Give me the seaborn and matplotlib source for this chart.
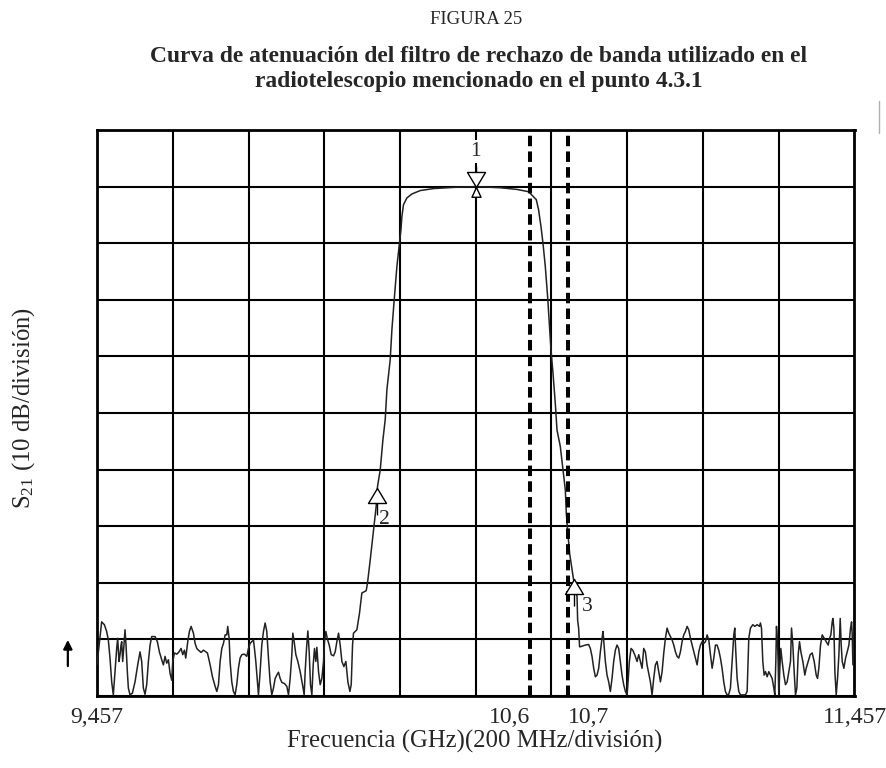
import numpy as np
import pandas as pd
import matplotlib
matplotlib.use("Agg")
import matplotlib.pyplot as plt
from matplotlib.path import Path
from matplotlib.lines import Line2D
import seaborn as sns

# Measured S21 trace of the band-reject filter (frequency in GHz, level in dB,
# 0 dB = reference line, 10 dB per division)
freq_ghz = [
    # noise floor below the band
    9.457, 9.4693, 9.4764, 9.4825, 9.4869, 9.4913, 9.4958, 9.5001, 9.5046, 9.5090,
    9.5116, 9.5151, 9.5178, 9.5204, 9.5222, 9.5248, 9.5275, 9.5310, 9.5336, 9.5371,
    9.5398, 9.5442, 9.5504, 9.5574, 9.5645, 9.5706, 9.5750, 9.5794, 9.5838, 9.5882,
    9.5927, 9.5971, 9.6015, 9.6103, 9.6164, 9.6217, 9.6279, 9.6323, 9.6367, 9.6411,
    9.6455, 9.6499, 9.6543, 9.6570, 9.6614, 9.6676, 9.6737, 9.6790, 9.6834, 9.6878,
    9.6913, 9.6966, 9.7010, 9.7054, 9.7116, 9.7160, 9.7204, 9.7248, 9.7319, 9.7380,
    9.7442, 9.7486, 9.7557, 9.7618, 9.7689, 9.7733, 9.7777, 9.7821, 9.7865, 9.7909,
    9.7953, 9.7996, 9.8022, 9.8058, 9.8084, 9.8128, 9.8172, 9.8216, 9.8260, 9.8304,
    9.8348, 9.8393, 9.8463, 9.8525, 9.8569, 9.8613, 9.8657, 9.8701, 9.8727, 9.8763,
    9.8798, 9.8833, 9.8877, 9.8921, 9.8965, 9.9009, 9.9053, 9.9097, 9.9141, 9.9185,
    9.9229, 9.9274, 9.9318, 9.9362, 9.9406, 9.9450, 9.9520, 9.9582, 9.9626, 9.9670,
    9.9714, 9.9740, 9.9776, 9.9820, 9.9873, 9.9934, 9.9996, 10.0040, 10.0066, 10.0102,
    10.0137, 10.0172, 10.0207, 10.0243, 10.0278, 10.0313, 10.0348, 10.0375, 10.0419, 10.0463,
    10.0507, 10.0551, 10.0577, 10.0613, 10.0648, 10.0701, 10.0754, 10.0815, 10.0859, 10.0903,
    10.0947, 10.0991, 10.1036, 10.1088, 10.1141, 10.1194, 10.1247, 10.1282, 10.1317,
    # lower skirt
    10.1342, 10.1431, 10.1500, 10.1563, 10.1677, 10.1711, 10.1783, 10.1870, 10.1941, 10.1976,
    10.2047, 10.2118, 10.2179, 10.2224, 10.2311, 10.2356, 10.2417, 10.2488, 10.2557, 10.2594,
    10.2620, 10.2662, 10.2752, 10.2884,
    # top of the response
    10.3104, 10.3455, 10.4073, 10.4602, 10.5217, 10.5658, 10.5965,
    # upper skirt
    10.6097, 10.6168, 10.6229, 10.6293, 10.6345, 10.6406, 10.6467, 10.6512, 10.6557, 10.6610,
    10.6670, 10.6715, 10.6802, 10.6874, 10.6935, 10.6961, 10.6995, 10.7048, 10.7112, 10.7154,
    10.7244, 10.7260, 10.7286, 10.7312,
    # noise floor above the band
    10.7331, 10.7463, 10.7551, 10.7595, 10.7640, 10.7684, 10.7728, 10.7772, 10.7816, 10.7860,
    10.7904, 10.7930, 10.7957, 10.7992, 10.8036, 10.8080, 10.8124, 10.8168, 10.8212, 10.8256,
    10.8300, 10.8344, 10.8388, 10.8432, 10.8476, 10.8521, 10.8565, 10.8591, 10.8626, 10.8670,
    10.8714, 10.8767, 10.8829, 10.8873, 10.8917, 10.8961, 10.9005, 10.9049, 10.9093, 10.9137,
    10.9181, 10.9225, 10.9269, 10.9313, 10.9357, 10.9402, 10.9446, 10.9490, 10.9534, 10.9578,
    10.9622, 10.9666, 10.9710, 10.9754, 10.9798, 10.9842, 10.9886, 10.9930, 10.9974, 11.0018,
    11.0062, 11.0106, 11.0150, 11.0194, 11.0238, 11.0283, 11.0327, 11.0371, 11.0415, 11.0459,
    11.0503, 11.0547, 11.0591, 11.0635, 11.0679, 11.0723, 11.0767, 11.0811, 11.0855, 11.0899,
    11.0942, 11.0986, 11.1030, 11.1074, 11.1118, 11.1162, 11.1206, 11.1250, 11.1294, 11.1339,
    11.1383, 11.1409, 11.1427, 11.1471, 11.1515, 11.1559, 11.1691, 11.1735, 11.1761, 11.1779,
    11.1823, 11.1885, 11.1938, 11.1999, 11.2061, 11.2087, 11.2114, 11.2149, 11.2184, 11.2220,
    11.2264, 11.2308, 11.2352, 11.2396, 11.2440, 11.2466, 11.2493, 11.2510, 11.2537, 11.2554,
    11.2572, 11.2598, 11.2625, 11.2660, 11.2704, 11.2748, 11.2792, 11.2836, 11.2880, 11.2907,
    11.2942, 11.2977, 11.3012, 11.3048, 11.3083, 11.3118, 11.3154, 11.3206, 11.3259, 11.3294,
    11.3347, 11.3400, 11.3453, 11.3506, 11.3559, 11.3594, 11.3629, 11.3673, 11.3717, 11.3770,
    11.3823, 11.3876, 11.3911, 11.3946, 11.3982, 11.3999, 11.4026, 11.4052, 11.4087, 11.4122,
    11.4158, 11.4193, 11.4219, 11.4246, 11.4290, 11.4334, 11.4378, 11.4422, 11.4466, 11.4493,
    11.4510, 11.4528, 11.4554, 11.4570,
]

s21_db = [
    -84.5, -76.9, -77.4, -78.6, -80.1, -83.3, -87.5, -89.8, -85.7, -81.6,
    -79.8, -83.9, -82.7, -81.0, -80.4, -83.9, -81.6, -78.3, -81.0, -85.7,
    -88.6, -89.8, -89.5, -87.5, -84.5, -82.2, -83.9, -88.6, -89.7, -88.0,
    -83.9, -81.0, -79.5, -79.5, -80.4, -82.2, -83.6, -84.5, -83.0, -84.2,
    -83.6, -86.0, -87.2, -83.9, -82.4, -82.6, -82.2, -81.6, -82.7, -81.9,
    -83.3, -80.4, -78.6, -77.7, -78.9, -80.7, -81.6, -81.9, -82.3, -81.9,
    -82.2, -82.4, -84.5, -86.6, -88.3, -89.2, -88.0, -83.9, -81.6, -80.7,
    -79.2, -79.2, -77.7, -79.8, -83.9, -87.5, -89.2, -89.8, -88.0, -85.1,
    -83.3, -82.7, -82.6, -83.0, -81.6, -80.7, -80.4, -80.1, -81.6, -83.9,
    -86.9, -89.8, -85.7, -81.0, -78.6, -77.1, -78.6, -83.3, -87.5, -89.8,
    -88.6, -86.9, -86.3, -85.8, -86.9, -87.6, -87.8, -88.3, -89.8, -86.9,
    -82.7, -78.9, -80.4, -82.7, -83.9, -85.7, -88.0, -89.8, -85.7, -81.6,
    -78.5, -82.2, -88.0, -89.8, -84.5, -81.6, -83.9, -81.4, -85.7, -88.0,
    -86.9, -83.9, -80.4, -78.6, -79.8, -81.0, -82.7, -82.9, -82.2, -80.4,
    -78.9, -81.0, -83.9, -84.8, -83.9, -87.5, -89.2, -88.0, -81.0,
    -78.9, -78.3, -75.4, -71.8, -71.4, -70.1, -66.0, -60.7, -56.5, -53.0,
    -50.1, -44.8, -41.2, -35.9, -30.6, -25.3, -20.0, -14.1, -10.0, -7.7,
    -5.3, -3.2, -2.0, -1.3,
    -0.7, -0.35, -0.1, 0.0, -0.2, -0.5, -0.9,
    -1.8, -2.3, -4.1, -7.1, -10.0, -14.1, -19.4, -24.1, -28.9, -33.0,
    -38.3, -43.0, -45.9, -50.1, -53.6, -57.7, -60.7, -64.8, -67.7, -69.5,
    -72.4, -76.6, -78.0, -81.3,
    -81.3, -81.0, -80.9, -81.6, -83.0, -85.1, -86.6, -86.3, -85.1, -82.2,
    -79.8, -78.6, -81.0, -83.9, -86.3, -87.5, -89.2, -86.9, -83.9, -81.9,
    -81.0, -81.6, -83.9, -86.3, -88.0, -89.2, -89.8, -87.5, -83.9, -81.6,
    -81.9, -82.7, -83.9, -82.7, -83.9, -85.1, -81.6, -82.2, -84.5, -86.0,
    -87.5, -89.8, -86.9, -84.5, -83.9, -85.7, -87.5, -85.7, -82.4, -79.8,
    -78.0, -78.9, -79.5, -80.1, -81.0, -82.2, -83.0, -83.3, -82.2, -80.4,
    -79.2, -78.6, -77.7, -78.3, -79.8, -81.0, -82.2, -83.3, -84.5, -82.2,
    -81.0, -80.4, -80.7, -80.4, -79.2, -80.1, -82.7, -85.1, -83.3, -81.0,
    -81.0, -81.9, -83.3, -85.1, -87.5, -89.2, -89.8, -89.7, -88.6, -83.9,
    -79.2, -78.0, -81.0, -86.9, -89.2, -89.8, -89.8, -89.2, -83.9, -79.8,
    -78.0, -77.4, -77.7, -77.4, -77.7, -77.1, -78.0, -83.9, -86.3, -85.7,
    -86.6, -85.7, -86.3, -86.9, -88.6, -89.8, -83.9, -77.7, -80.4, -83.9,
    -89.8, -85.1, -81.6, -83.9, -86.3, -88.0, -87.5, -85.7, -83.9, -78.0,
    -81.0, -85.7, -89.8, -88.6, -82.7, -80.4, -82.2, -83.9, -86.3, -85.1,
    -83.9, -82.7, -82.4, -83.9, -86.3, -86.9, -85.1, -81.0, -79.2, -79.8,
    -80.4, -81.0, -79.8, -79.2, -76.9, -76.3, -78.0, -85.7, -89.8, -86.9,
    -82.7, -76.3, -81.0, -83.9, -85.1, -83.3, -82.2, -81.0, -78.0, -76.9,
    -79.2, -84.5, -81.0, -78.6,
]

# Markers placed on the trace
marker_freq = [10.457, 10.196, 10.717]
marker_db = [0.0, -53.3, -69.4]
marker_label = ["1", "2", "3"]

# Reference frequencies (dashed lines) and axis labels
ref_freq = [10.6, 10.7]
tick_freq = [9.457, 10.6, 10.7, 11.457]
tick_text = ["9,457", "10,6", "10,7", "11,457"]

f_start, f_stop = 9.457, 11.457
db_bottom, db_top = -90, 10

sns.set_style("white")
plt.rcParams["font.family"] = ["Liberation Serif", "DejaVu Serif"]
plt.rcParams["mathtext.fontset"] = "custom"
plt.rcParams["mathtext.rm"] = "Liberation Serif"
plt.rcParams["mathtext.it"] = "Liberation Serif:italic"

W, H = 887, 768
fig = plt.figure(figsize=(W / 100, H / 100), dpi=100)
ax = fig.add_axes([97 / W, 1 - 696 / H, 757.5 / W, 566 / H])

trace = pd.DataFrame({"freq": freq_ghz, "s21": s21_db})
sns.lineplot(data=trace, x="freq", y="s21", ax=ax, sort=False, estimator=None,
             color="#222222", lw=1.1, zorder=3)

ax.set_xlim(f_start, f_stop)
ax.set_ylim(db_bottom, db_top)

# 10 x 10 division graticule
ax.set_xticks(np.linspace(f_start, f_stop, 11), minor=True)
ax.set_yticks(np.arange(db_bottom, db_top + 1, 10), minor=True)
ax.set_yticks([])
ax.grid(which="minor", color="black", lw=1.5, zorder=1)
ax.grid(which="major", visible=False)
for side in ax.spines.values():
    side.set_color("black")
    side.set_linewidth(2.0)

ax.set_xticks(tick_freq)
ax.set_xticklabels(tick_text)
ax.tick_params(axis="both", which="both", length=0)
ax.tick_params(axis="x", labelsize=17, pad=8)
labels = ax.get_xticklabels()
labels[1].set_horizontalalignment("right")
labels[2].set_horizontalalignment("left")
ax.set_xlabel("")
ax.set_ylabel("")

for f in ref_freq:
    ax.axvline(f, color="black", lw=2.9, dashes=(2.6, 1.3), zorder=4)

# marker symbols with the tip at the marked point
up_marker = Path([(0, 0), (-0.6, -1), (0.6, -1), (0, 0), (0, -1), (0, -1.8)],
                 [Path.MOVETO, Path.LINETO, Path.LINETO, Path.CLOSEPOLY,
                  Path.MOVETO, Path.LINETO])
bowtie = Path([(0, 0), (-0.6, 1), (0.6, 1), (0, 0),
               (0, 0), (0.3, -0.65), (-0.3, -0.65), (0, 0),
               (0, 1), (0, 1.35)],
              [Path.MOVETO, Path.LINETO, Path.LINETO, Path.CLOSEPOLY,
               Path.MOVETO, Path.LINETO, Path.LINETO, Path.CLOSEPOLY,
               Path.MOVETO, Path.LINETO])

ax.plot(marker_freq[0], marker_db[0], marker=bowtie, ms=29.2, mfc="white",
        mec="black", mew=1.0, ls="none", zorder=6, clip_on=False)
ax.plot(marker_freq[1:], marker_db[1:], marker=up_marker, ms=38.9, mfc="white",
        mec="black", mew=1.0, ls="none", zorder=6)

label_offsets = [(0, 25.5), (5.5, -22.5), (9.7, -19.5)]
for f, d, txt, off in zip(marker_freq, marker_db, marker_label, label_offsets):
    ax.annotate(txt, (f, d), xytext=off, textcoords="offset points",
                ha="center", va="center", fontsize=15.5, zorder=7,
                bbox=dict(boxstyle="square,pad=0.1", fc="white", ec="none") if txt == "1" else None)

# scale direction arrow beside the level axis
ax.annotate("", xy=(9.380, -79.6), xytext=(9.380, -85.2), annotation_clip=False,
            arrowprops=dict(arrowstyle="-|>", color="black", lw=1.6, mutation_scale=13))

cx = 479 / W
fig.text(476 / W, 1 - 20 / H, "FIGURA 25", ha="center", va="center", fontsize=13.5)
fig.text(cx, 1 - 57 / H, "Curva de atenuación del filtro de rechazo de banda utilizado en el",
         ha="center", va="center", fontsize=16.9, fontweight="bold")
fig.text(cx, 1 - 82 / H, "radiotelescopio mencionado en el punto 4.3.1",
         ha="center", va="center", fontsize=16.9, fontweight="bold")
fig.text(475 / W, 1 - 741 / H, "Frecuencia (GHz)(200 MHz/división)",
         ha="center", va="center", fontsize=17.8)
fig.text(24 / W, 1 - 408 / H, "S$_{21}$ (10 dB/división)", rotation=90,
         ha="center", va="center", fontsize=17.8)

fig.add_artist(Line2D([879 / W, 879 / W], [1 - 101 / H, 1 - 133 / H],
                      color="#b0b0b0", lw=1.0))

fig.savefig("out.png", dpi=100)
